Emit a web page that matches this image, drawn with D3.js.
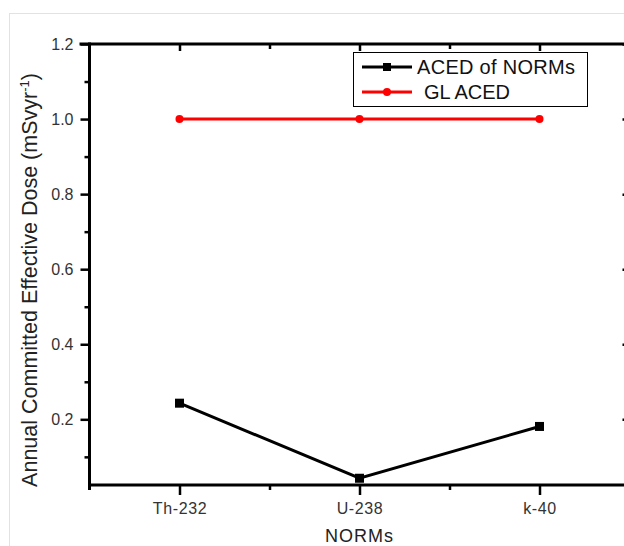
<!DOCTYPE html>
<html>
<head>
<meta charset="utf-8">
<script src="https://cdn.jsdelivr.net/npm/d3@7"></script>
<style>
  body { margin: 0; background: #fff; }
  .tick text { font-family: "Liberation Sans Narrow", "Liberation Sans", Arial, sans-serif; font-size: 16px; fill: #333; }
  .xlab .tick text { letter-spacing: 0.6px; }
</style>
</head>
<body>
<div id="chart"></div>
<script>
// data
var categories = ['Th-232', 'U-238', 'k-40'];
var acedValues = [0.243, 0.043, 0.181];
var glValues = [1.0, 1.0, 1.0];
var yMajor = [0.2, 0.4, 0.6, 0.8, 1.0, 1.2];
var yMinor = [0.1, 0.3, 0.5, 0.7, 0.9, 1.1];
var xMinor = [0.5, 1.5];
var seriesNames = ['ACED of NORMs', 'GL ACED'];

var width = 624, height = 546;

var svg = d3.select('#chart').append('svg')
    .attr('width', width)
    .attr('height', height);

// light frame around the figure
svg.append('rect')
    .attr('x', 9.5).attr('y', 13.5)
    .attr('width', 700).attr('height', 600)
    .attr('fill', 'none')
    .attr('stroke', '#e2e2e2');

var x = d3.scaleLinear().domain([-0.5, 2.5]).range([89.5, 629.5]);
var y = d3.scaleLinear().domain([0.025, 1.2]).range([485, 44]);

var fmt = d3.format('.1f');

// left axis
var gL = svg.append('g').attr('transform', 'translate(' + x(-0.5) + ',0)');
gL.call(d3.axisLeft(y).tickValues(yMajor).tickSize(9).tickPadding(7).tickFormat(fmt).tickSizeOuter(0));
gL.append('g').call(d3.axisLeft(y).tickValues(yMinor).tickSize(5).tickFormat('').tickSizeOuter(0));

// right axis (mirror, inward ticks)
var gR = svg.append('g').attr('transform', 'translate(' + x(2.5) + ',0)');
gR.call(d3.axisLeft(y).tickValues(yMajor).tickFormat('').tickSizeOuter(0));
gR.selectAll('.tick line').attr('x2', -7);
gR.append('g').call(d3.axisLeft(y).tickValues(yMinor).tickFormat('').tickSizeOuter(0))
    .selectAll('.tick line').attr('x2', -4);

// bottom axis
var gB = svg.append('g').attr('class', 'xlab').attr('transform', 'translate(0,' + y(0.025) + ')');
gB.call(d3.axisBottom(x).tickValues([0, 1, 2]).tickSize(10).tickPadding(8)
    .tickFormat(function (d) { return categories[d]; }).tickSizeOuter(0));
gB.append('g').call(d3.axisBottom(x).tickValues(xMinor).tickSize(5).tickFormat('').tickSizeOuter(0));

// top axis (inward ticks)
var gT = svg.append('g').attr('transform', 'translate(0,' + y(1.2) + ')');
gT.call(d3.axisBottom(x).tickValues([0, 1, 2]).tickSize(7).tickFormat('').tickSizeOuter(0));
gT.append('g').call(d3.axisBottom(x).tickValues(xMinor).tickSize(5).tickFormat('').tickSizeOuter(0));

svg.selectAll('.domain').remove();
svg.selectAll('.tick line').attr('stroke', '#000').attr('stroke-width', 2.5);

// frame lines
var frame = svg.append('g').attr('stroke', '#000').attr('stroke-width', 3).attr('fill', 'none');
frame.append('line').attr('x1', x(-0.5)).attr('x2', x(-0.5)).attr('y1', y(1.2) - 1.5).attr('y2', y(0.025) + 5);
frame.append('line').attr('x1', x(-0.5) - 1.5).attr('x2', x(2.5)).attr('y1', y(0.025)).attr('y2', y(0.025));
frame.append('line').attr('x1', x(-0.5) - 10).attr('x2', x(2.5)).attr('y1', y(1.2)).attr('y2', y(1.2));
frame.append('line').attr('x1', x(2.5)).attr('x2', x(2.5)).attr('y1', y(1.2)).attr('y2', y(0.025));

var line = d3.line()
    .x(function (d, i) { return x(i); })
    .y(function (d) { return y(d); });

// GL ACED (red)
svg.append('path').datum(glValues)
    .attr('d', line).attr('fill', 'none')
    .attr('stroke', '#ff0000').attr('stroke-width', 3);
svg.selectAll('.gl').data(glValues).enter().append('circle')
    .attr('cx', function (d, i) { return x(i); })
    .attr('cy', function (d) { return y(d); })
    .attr('r', 4).attr('fill', '#ff0000');

// ACED of NORMs (black)
svg.append('path').datum(acedValues)
    .attr('d', line).attr('fill', 'none')
    .attr('stroke', '#000').attr('stroke-width', 3);
svg.selectAll('.aced').data(acedValues).enter().append('rect')
    .attr('x', function (d, i) { return x(i) - 4.5; })
    .attr('y', function (d) { return y(d) - 4.5; })
    .attr('width', 9).attr('height', 9).attr('fill', '#000');

// legend
var lg = svg.append('g').attr('transform', 'translate(353,52)');
lg.append('rect').attr('x', 0.5).attr('y', 0.5).attr('width', 234).attr('height', 54)
    .attr('fill', '#fff').attr('stroke', '#000').attr('stroke-width', 1);
var colors = ['#000', '#ff0000'];
seriesNames.forEach(function (name, i) {
    var cy = 15 + i * 25;
    lg.append('line').attr('x1', 9).attr('x2', 59).attr('y1', cy).attr('y2', cy)
        .attr('stroke', colors[i]).attr('stroke-width', 3);
    if (i === 0) {
        lg.append('rect').attr('x', 30).attr('y', cy - 4).attr('width', 8).attr('height', 8).attr('fill', '#000');
    } else {
        lg.append('circle').attr('cx', 34).attr('cy', cy).attr('r', 4).attr('fill', '#ff0000');
    }
    lg.append('text').attr('x', i === 0 ? 64 : 71).attr('y', cy + 7)
        .attr('font-family', 'Liberation Sans, Arial, sans-serif')
        .attr('font-size', 20).attr('fill', '#111')
        .attr('letter-spacing', i === 0 ? 0.3 : 0)
        .text(name);
});

// axis titles
var yt = svg.append('text')
    .attr('transform', 'translate(37,280) rotate(-90)')
    .attr('text-anchor', 'middle')
    .attr('font-family', 'Liberation Sans, Arial, sans-serif')
    .attr('font-size', 21.5).attr('fill', '#222');
yt.append('tspan').text('Annual Committed Effective Dose (mSvyr');
yt.append('tspan').attr('dy', -8).attr('font-size', 13).text('-1');
yt.append('tspan').attr('dy', 8).text(')');

svg.append('text')
    .attr('x', x(1)).attr('y', 542)
    .attr('text-anchor', 'middle')
    .attr('font-family', 'Liberation Sans, Arial, sans-serif')
    .attr('font-size', 18).attr('fill', '#222')
    .attr('letter-spacing', 1)
    .text('NORMs');
</script>
</body>
</html>
